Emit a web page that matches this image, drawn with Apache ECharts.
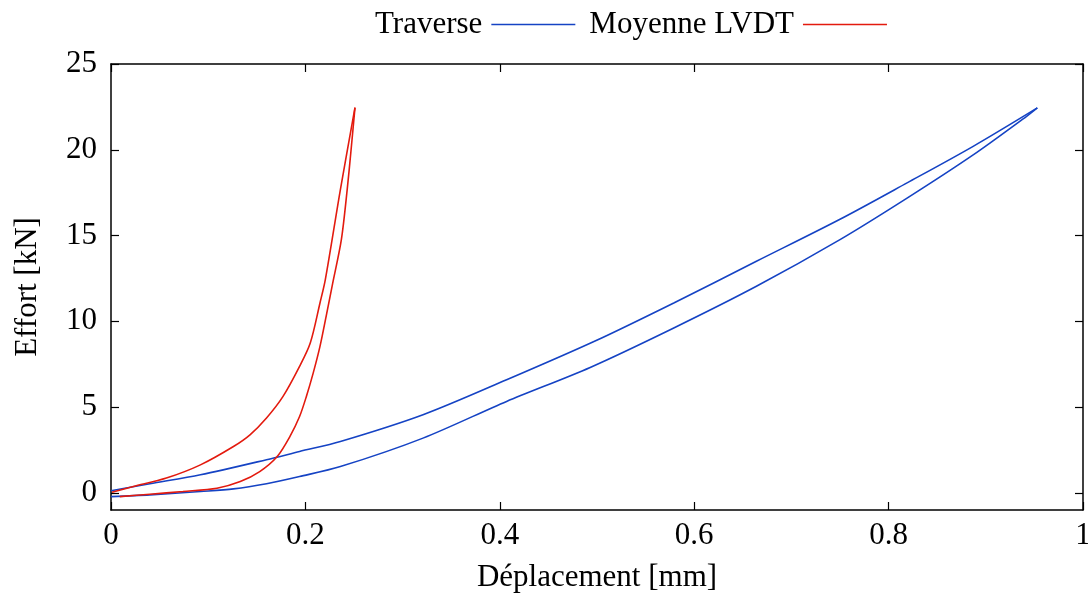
<!DOCTYPE html>
<html>
<head>
<meta charset="utf-8">
<script src="https://cdn.jsdelivr.net/npm/echarts@6/dist/echarts.min.js"></script>
<style>
  html, body { margin: 0; padding: 0; background: #fff; }
  #chart { width: 1088px; height: 598px; }
</style>
</head>
<body>
<div id="chart"></div>
<script>
// Traverse : branche basse (charge) puis branche haute (retour)
const traverseLoadX = [0.000, 0.040, 0.092, 0.126, 0.160, 0.194, 0.236, 0.321, 0.407, 0.493, 0.579, 0.664, 0.750, 0.819, 0.887, 0.942, 0.953];
const traverseLoadY = [-0.22, -0.12, 0.08, 0.23, 0.53, 0.95, 1.53, 3.19, 5.33, 7.31, 9.61, 12.04, 14.76, 17.18, 19.70, 21.95, 22.44];
const traverseBackX = [0.953, 0.887, 0.819, 0.750, 0.664, 0.579, 0.498, 0.407, 0.321, 0.236, 0.194, 0.160, 0.092, 0.040, 0.000];
const traverseBackY = [22.44, 20.20, 18.07, 15.95, 13.50, 11.07, 8.85, 6.59, 4.55, 2.99, 2.41, 1.93, 1.05, 0.53, 0.12];

// Moyenne LVDT
const lvdtLoadX = [0.009, 0.040, 0.074, 0.109, 0.133, 0.153, 0.171, 0.184, 0.194, 0.201, 0.208, 0.215, 0.222, 0.228, 0.237, 0.243, 0.247, 0.251];
const lvdtLoadY = [-0.22, -0.08, 0.08, 0.27, 0.66, 1.24, 2.12, 3.28, 4.45, 5.62, 6.98, 8.54, 10.48, 12.20, 14.76, 17.68, 20.00, 22.46];
const lvdtBackX = [0.251, 0.236, 0.2205, 0.215, 0.205, 0.194, 0.177, 0.160, 0.143, 0.126, 0.092, 0.057, 0.023, 0.001];
const lvdtBackY = [22.46, 17.68, 12.43, 11.07, 8.73, 7.37, 5.62, 4.36, 3.38, 2.70, 1.63, 0.86, 0.37, 0.04];

const yTicks = [0, 5, 10, 15, 20, 25];

const font = '"Liberation Serif", "DejaVu Serif", serif';
const zip = (xs, ys) => xs.map((x, i) => [x, ys[i]]);

const chart = echarts.init(document.getElementById('chart'));

const frame = { show: true, onZero: false, lineStyle: { color: '#000', width: 1.5 } };
const ticks = { show: true, inside: true, length: 8, lineStyle: { color: '#000', width: 1.2 } };

const branch = (name, color, xs, ys) => ({
  name: name, type: 'line', showSymbol: false, symbol: 'none',
  smooth: 0.3, color: color, lineStyle: { width: 1.6 },
  data: zip(xs, ys)
});

chart.setOption({
  animation: false,
  backgroundColor: '#fff',
  textStyle: { fontFamily: font },
  legend: {
    top: 4,
    left: 370,
    align: 'right',
    icon: 'rect',
    itemWidth: 84,
    itemHeight: 1.6,
    itemGap: 14,
    textStyle: { fontFamily: font, fontSize: 31, color: '#000', padding: [0, 4, 0, 0] },
    data: ['Traverse', 'Moyenne LVDT']
  },
  grid: { left: 111, right: 5, top: 64, bottom: 88, outerBoundsMode: 'none', containLabel: false },
  xAxis: [
    {
      type: 'value', min: 0, max: 1, interval: 0.2,
      name: 'Déplacement [mm]', nameLocation: 'middle', nameGap: 52,
      nameTextStyle: { fontFamily: font, fontSize: 31, color: '#000' },
      axisLine: frame, axisTick: ticks, splitLine: { show: false },
      axisLabel: { fontFamily: font, fontSize: 31, color: '#000', margin: 10 }
    },
    {
      type: 'value', min: 0, max: 1, interval: 0.2, position: 'top',
      axisLine: frame, axisTick: ticks, splitLine: { show: false },
      axisLabel: { show: false }
    }
  ],
  yAxis: [
    {
      type: 'value', min: -1, max: 25,
      name: 'Effort [kN]', nameLocation: 'middle', nameGap: 68,
      nameTextStyle: { fontFamily: font, fontSize: 31, color: '#000' },
      axisLine: frame,
      axisTick: Object.assign({ customValues: yTicks }, ticks),
      splitLine: { show: false },
      axisLabel: { fontFamily: font, fontSize: 31, color: '#000', margin: 14, customValues: yTicks }
    },
    {
      type: 'value', min: -1, max: 25, position: 'right',
      axisLine: frame,
      axisTick: Object.assign({ customValues: yTicks }, ticks),
      splitLine: { show: false },
      axisLabel: { show: false }
    }
  ],
  series: [
    branch('Traverse', '#1543c4', traverseLoadX, traverseLoadY),
    branch('Traverse', '#1543c4', traverseBackX, traverseBackY),
    branch('Moyenne LVDT', '#e31a0e', lvdtLoadX, lvdtLoadY),
    branch('Moyenne LVDT', '#e31a0e', lvdtBackX, lvdtBackY)
  ]
});
</script>
</body>
</html>
